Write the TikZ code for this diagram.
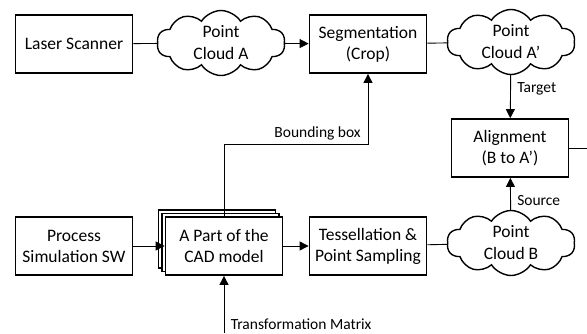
\documentclass[tikz,border=0pt]{standalone}
\usepackage{fontspec}
\setmainfont{Carlito}
\usetikzlibrary{shapes.symbols,shadows,arrows.meta}

\tikzset{
  blockbox/.style={draw,line width=1.8pt,fill=white,minimum width=117pt,minimum height=58pt,
    align=center,inner sep=2pt,font=\fontsize{17.5}{21}\selectfont},
  cloudnode/.style={cloud,draw,line width=1.4pt,cloud puffs=10,cloud puff arc=115,cloud ignores aspect,
    minimum width=128pt,minimum height=65pt,inner sep=0pt},
  cloudtext/.style={align=center,font=\fontsize{17.5}{22}\selectfont},
  conn/.style={line width=0.9pt},
  arr/.style={conn,-{Triangle[length=9pt,width=9pt]}},
  lbl/.style={font=\fontsize{15.5}{18}\selectfont}
}

\begin{document}
\begin{tikzpicture}[x=1pt,y=-1pt]

\useasboundingbox (0,0) rectangle (587,333);

\node[blockbox] (scanner) at (74,44) {Laser Scanner};
\node[cloudnode] (cloudA) at (221,43) {};
\node[cloudtext] (cloudAtxt) at (cloudA.center) {Point\\Cloud A};
\node[blockbox] (segment) at (368,44) {Segmentation\\(Crop)};
\node[cloudnode] (cloudAp) at (511,42) {};
\node[cloudtext] (cloudAptxt) at (cloudAp.center) {Point\\Cloud A’};
\node[blockbox] (align) at (510,148) {Alignment\\(B to A’)};

\node[blockbox] (procsim) at (74,246) {Process\\Simulation SW};
\node[blockbox,double copy shadow={shadow xshift=-3.5pt,shadow yshift=3.5pt}] (cad) at (224,246) {A Part of the\\CAD model};
\node[blockbox] (tessel) at (368,246) {Tessellation \&\\Point Sampling};
\node[cloudnode] (cloudB) at (511,243) {};
\node[cloudtext] (cloudBtxt) at (cloudB.center) {Point\\Cloud B};

\coordinate (alignout) at (587,148);
\coordinate (bbcorner) at (224,144);
\coordinate (tmstart) at (224,333);

\draw[conn] (scanner) -- (cloudA);
\draw[arr] (cloudA) -- (segment);
\draw[conn] (segment) -- (cloudAp);
\draw[arr] (cloudAp) -- node[lbl,right,xshift=3pt,yshift=8pt] {Target} (align);
\draw[arr] (cloudB) -- node[lbl,right,xshift=3pt,yshift=-7pt] {Source} (align);
\draw[conn] (align) -- (alignout);

\draw[arr] (procsim) -- (cad);
\draw[arr] (cad) -- (tessel);
\draw[conn] (tessel) -- (cloudB);

\draw[arr] (cad.north) -- (bbcorner) -- node[lbl,above,pos=0.65] {Bounding box} (bbcorner -| segment.south) -- (segment.south);
\draw[arr] (tmstart) -- node[lbl,right,pos=0.15,xshift=3pt] {Transformation Matrix} (cad.south);

\end{tikzpicture}
\end{document}
